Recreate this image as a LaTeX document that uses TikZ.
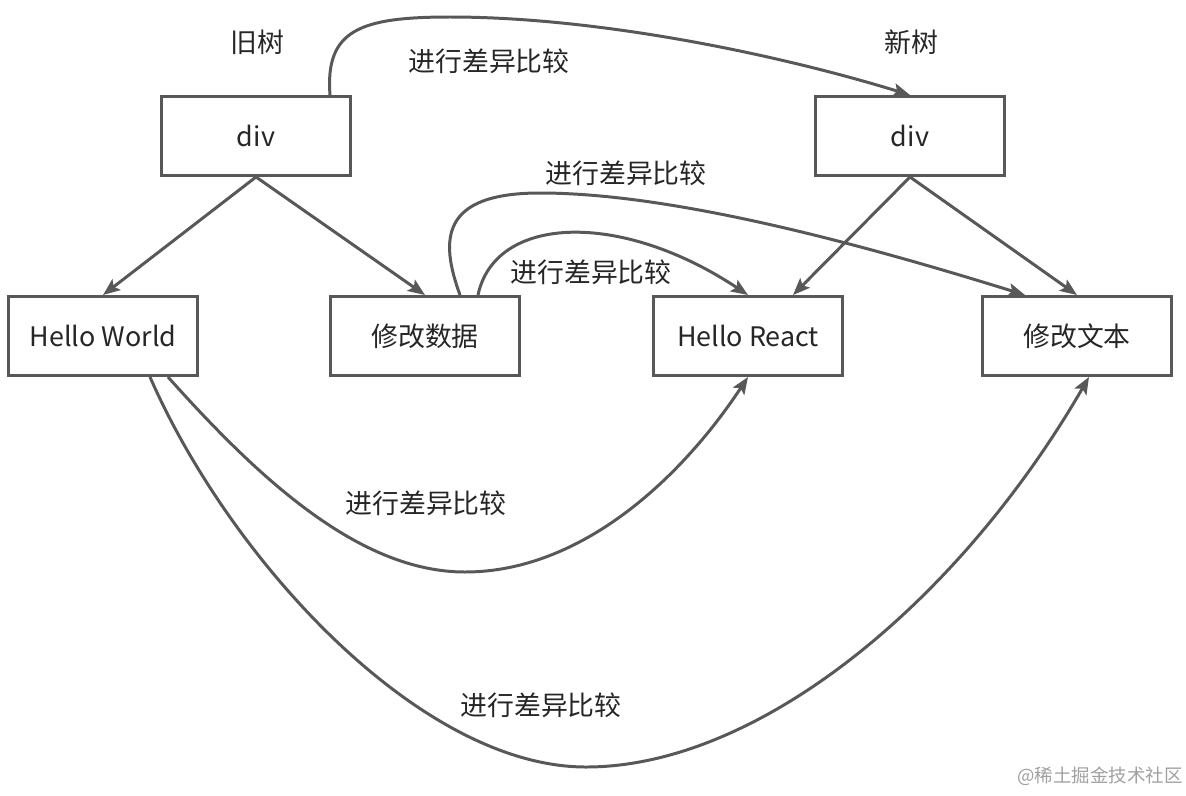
\documentclass[tikz,border=0pt]{standalone}
\usepackage{fontspec}
\newfontfamily\cjk{Noto Sans CJK SC}
\usetikzlibrary{arrows.meta,calc}
\definecolor{linegray}{HTML}{585858}
\definecolor{textgray}{HTML}{262626}
\definecolor{markgray}{HTML}{A0A0A0}

\begin{document}
\begin{tikzpicture}[x=0.02cm,y=-0.02cm,
  treebox/.style={draw=linegray,line width=1.7pt,minimum width=3.78cm,minimum height=1.58cm,
    inner sep=0pt,text=textgray,font=\cjk\fontsize{15.3}{18}\selectfont},
  tag/.style={text=textgray,font=\cjk\fontsize{15.3}{18}\selectfont},
  link/.style={draw=linegray,line width=1.7pt,
    -{Stealth[length=0.34cm,width=0.27cm,inset=0.07cm]}}]
\useasboundingbox (0,0) rectangle (1186,795);
% old tree and new tree
\node[tag] (oldname) at (257,42) {旧树};
\node[tag] (newname) at (911,42) {新树};
\node[treebox] (olddiv) at (256,136) {div};
\node[treebox] (newdiv) at (910,136) {div};
\node[treebox] (hw) at (103,336) {Hello World};
\node[treebox] (xgsj) at (425,336) {修改数据};
\node[treebox] (hr) at (748,336) {Hello React};
\node[treebox] (xgwb) at (1077,336) {修改文本};
\draw[link] (olddiv.south) -- (hw.north);
\draw[link] (olddiv.south) -- (xgsj.north);
\draw[link] (newdiv.south) -- ($(hr.north)+(45,0)$);
\draw[link] (newdiv.south) -- (xgwb.north);
% comparisons
\draw[link] ($(olddiv.north)+(74,0)$) .. controls (325,30) and (360,17) .. (450,17)
  .. controls (600,17) and (780,55) .. (newdiv.north);
\draw[link] ($(xgsj.north)+(35,0)$) .. controls (440,240) and (440,193) .. (540,193)
  .. controls (680,193) and (880,250) .. ($(xgwb.north)+(-52,0)$);
\draw[link] ($(xgsj.north)+(53,0)$) .. controls (495,215) and (620,210) .. (hr.north);
\draw[link] ($(hw.south)+(65,0)$) .. controls (260,480) and (360,572) .. (465,572)
  .. controls (580,572) and (680,480) .. (hr.south);
\draw[link] ($(hw.south)+(47,0)$) .. controls (230,560) and (420,767) .. (586,767)
  .. controls (760,767) and (960,600) .. ($(xgwb.south)+(12,0)$);
\node[tag] (cmp1) at (489,61) {进行差异比较};
\node[tag] (cmp2) at (626,173) {进行差异比较};
\node[tag] (cmp3) at (591,272) {进行差异比较};
\node[tag] (cmp4) at (426,503) {进行差异比较};
\node[tag] (cmp5) at (541,705) {进行差异比较};
\node[text=markgray,font=\cjk\fontsize{10.5}{12}\selectfont] (mark) at (1100,776) {@稀土掘金技术社区};
\end{tikzpicture}
\end{document}
